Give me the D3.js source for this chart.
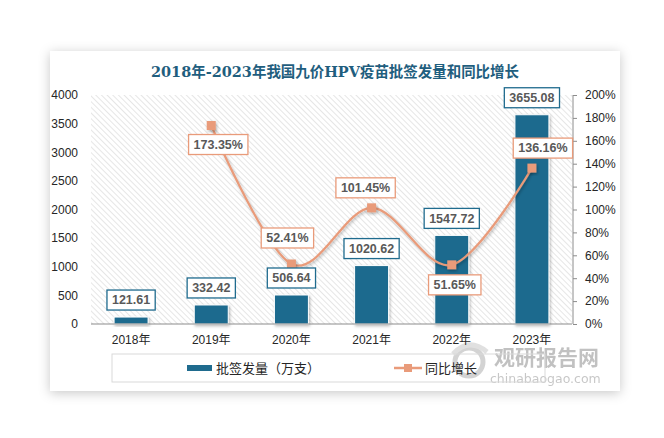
<!DOCTYPE html>
<html>
<head>
<meta charset="utf-8">
<script src="https://cdn.jsdelivr.net/npm/d3@7"></script>
<style>
  html, body { margin: 0; padding: 0; background: #ffffff; }
  svg { display: block; }
</style>
</head>
<body>
<svg id="chart" width="664" height="438"></svg>
<script>
// ---------------- DATA ----------------
const categories = ["2018年", "2019年", "2020年", "2021年", "2022年", "2023年"];
const batchVolume = [121.61, 332.42, 506.64, 1020.62, 1547.72, 3655.08];   // 批签发量（万支）
const yoyGrowth = [null, 173.35, 52.41, 101.45, 51.65, 136.16];           // 同比增长 (%)
const leftTicks = [0, 500, 1000, 1500, 2000, 2500, 3000, 3500, 4000];
const rightTicks = [0, 20, 40, 60, 80, 100, 120, 140, 160, 180, 200];
const titleText = "2018年-2023年我国九价HPV疫苗批签发量和同比增长";
const legendBar = "批签发量（万支）";
const legendLine = "同比增长";

// ---------------- STYLE / LAYOUT ----------------
const barColor = "#1F6B8E";
const lineColor = "#E99B7A";
const labelText = "#595959";
const lineLabelOffsets = [[0, 0], [7, 19], [-4, -26], [-6, -20], [3, 20], [11, -20]];
const plot = { left: 91, right: 572, top: 95, bottom: 324 };

const svg = d3.select("#chart");
const defs = svg.append("defs");

// card shadow
const cardShadow = defs.append("filter").attr("id", "cardShadow")
  .attr("x", "-10%").attr("y", "-10%").attr("width", "120%").attr("height", "120%");
cardShadow.append("feDropShadow").attr("dx", 0).attr("dy", 2).attr("stdDeviation", 6)
  .attr("flood-color", "#000").attr("flood-opacity", 0.22);

const markShadow = defs.append("filter").attr("id", "markShadow")
  .attr("x", "-30%").attr("y", "-30%").attr("width", "160%").attr("height", "160%");
markShadow.append("feDropShadow").attr("dx", 1).attr("dy", 1.5).attr("stdDeviation", 1.5)
  .attr("flood-color", "#000").attr("flood-opacity", 0.3);

// hatch pattern
const pat = defs.append("pattern").attr("id", "hatch")
  .attr("patternUnits", "userSpaceOnUse").attr("width", 4).attr("height", 4)
  .attr("patternTransform", "rotate(-45)");
pat.append("rect").attr("width", 4).attr("height", 4).attr("fill", "#ffffff");
pat.append("line").attr("x1", 0).attr("y1", 0).attr("x2", 0).attr("y2", 4)
  .attr("stroke", "#d6d6d6").attr("stroke-width", 1.2);

// card
svg.append("rect").attr("x", 50).attr("y", 51).attr("width", 570).attr("height", 340)
  .attr("fill", "#ffffff").attr("filter", "url(#cardShadow)");

// title
svg.append("text").attr("x", 335).attr("y", 77).attr("text-anchor", "middle")
  .attr("font-family", "'DejaVu Serif', 'Noto Sans CJK SC', serif")
  .attr("font-weight", "bold").attr("font-size", 15).attr("fill", "#1F5E7E")
  .attr("textLength", 368).attr("lengthAdjust", "spacingAndGlyphs")
  .text(titleText);

// scales
const x = d3.scaleBand().domain(categories).range([plot.left, plot.right]).paddingInner(0).paddingOuter(0);
const yL = d3.scaleLinear().domain([0, 4000]).range([plot.bottom, plot.top]);
const yR = d3.scaleLinear().domain([0, 200]).range([plot.bottom, plot.top]);

// plot background hatch
svg.append("rect").attr("x", plot.left).attr("y", plot.top)
  .attr("width", plot.right - plot.left).attr("height", plot.bottom - plot.top)
  .attr("fill", "url(#hatch)");

// left axis
const axL = svg.append("g").attr("transform", `translate(${plot.left - 13},0)`)
  .call(d3.axisLeft(yL).tickValues(leftTicks).tickSize(0).tickPadding(0).tickFormat(d3.format("d")));
axL.select(".domain").remove();
axL.selectAll("text").attr("font-family", "'Liberation Sans', Arial, sans-serif")
  .attr("font-size", 12).attr("fill", "#262626");

// right axis
const axR = svg.append("g").attr("transform", `translate(${plot.right + 1},0)`)
  .call(d3.axisRight(yR).tickValues(rightTicks).tickSize(4).tickPadding(8).tickFormat(d => d + "%"));
axR.select(".domain").attr("stroke", "#8c8c8c").attr("d", `M0,${plot.top}V${plot.bottom}`);
axR.selectAll("line").attr("stroke", "#8c8c8c");
axR.selectAll("text").attr("font-family", "'Liberation Sans', Arial, sans-serif")
  .attr("font-size", 12).attr("fill", "#262626");

// bars
const bw = 34;
svg.append("g").selectAll("rect").data(batchVolume).join("rect")
  .attr("x", (d, i) => x(categories[i]) + x.bandwidth() / 2 - bw / 2)
  .attr("y", d => yL(d))
  .attr("width", bw)
  .attr("height", d => yL(0) - yL(d))
  .attr("fill", barColor).attr("stroke", "#ffffff").attr("stroke-width", 1)
  .attr("filter", "url(#markShadow)");

// watermark (drawn beneath axis labels)
const wm = svg.append("g").attr("opacity", 0.55);
wm.append("circle").attr("cx", 469).attr("cy", 362).attr("r", 14)
  .attr("fill", "none").attr("stroke", "#b0b0b0").attr("stroke-width", 5);
wm.append("path").attr("d", "M453,354 Q469,337 487,352").attr("fill", "none")
  .attr("stroke", "#c8c8c8").attr("stroke-width", 5);
wm.append("text").attr("x", 494).attr("y", 365)
  .attr("font-family", "'Noto Sans CJK SC', sans-serif").attr("font-weight", "bold")
  .attr("font-size", 21).attr("fill", "#8f8f8f").text("观研报告网");
wm.append("text").attr("x", 490).attr("y", 383)
  .attr("font-family", "'DejaVu Sans', sans-serif")
  .attr("font-size", 12.5).attr("fill", "#9a9a9a").text("chinabaogao.com");

// x axis line
const axB = svg.append("g").attr("transform", `translate(0,${plot.bottom})`)
  .call(d3.axisBottom(x).tickSize(0).tickPadding(11));
axB.select(".domain").attr("stroke", "#8c8c8c").attr("d", `M${plot.left},0H${plot.right}`);
axB.selectAll("text").attr("font-family", "'Liberation Sans', 'Noto Sans CJK SC', sans-serif")
  .attr("font-size", 12).attr("fill", "#262626");

// line
const pts = yoyGrowth.map((v, i) => ({ v, i })).filter(p => p.v != null);
const line = d3.line()
  .x(p => x(categories[p.i]) + x.bandwidth() / 2)
  .y(p => yR(p.v))
  .curve(d3.curveCardinal.tension(0));
svg.append("path").datum(pts).attr("d", line)
  .attr("fill", "none").attr("stroke", lineColor).attr("stroke-width", 2.2)
  .attr("filter", "url(#markShadow)");

svg.append("g").selectAll("rect").data(pts).join("rect")
  .attr("x", p => x(categories[p.i]) + x.bandwidth() / 2 - 4.5)
  .attr("y", p => yR(p.v) - 4.5)
  .attr("width", 9).attr("height", 9)
  .attr("fill", lineColor)
  .attr("filter", "url(#markShadow)");

// labels helper
function boxLabel(cx, cy, txt, border) {
  const g = svg.append("g");
  const t = g.append("text").attr("x", cx).attr("y", cy + 4.3).attr("text-anchor", "middle")
    .attr("font-family", "'Liberation Sans', Arial, sans-serif")
    .attr("font-weight", "bold").attr("font-size", 12.5).attr("fill", labelText).text(txt);
  const w = t.node().getComputedTextLength() + 10;
  g.insert("rect", "text").attr("x", cx - w / 2).attr("y", cy - 10)
    .attr("width", w).attr("height", 20)
    .attr("fill", "#ffffff").attr("stroke", border).attr("stroke-width", 1.3);
}

batchVolume.forEach((d, i) => {
  boxLabel(x(categories[i]) + x.bandwidth() / 2, yL(d) - 17, d3.format(".2f")(d), barColor);
});
pts.forEach(p => {
  const off = lineLabelOffsets[p.i];
  boxLabel(x(categories[p.i]) + x.bandwidth() / 2 + off[0], yR(p.v) + off[1], d3.format(".2f")(p.v) + "%", lineColor);
});

// legend
svg.append("rect").attr("x", 112).attr("y", 354).attr("width", 433).attr("height", 28)
  .attr("fill", "none").attr("stroke", "#d9d9d9").attr("stroke-width", 1);
svg.append("rect").attr("x", 187).attr("y", 365).attr("width", 25).attr("height", 6).attr("fill", barColor);
svg.append("text").attr("x", 216).attr("y", 373)
  .attr("font-family", "'Noto Sans CJK SC', sans-serif").attr("font-size", 13).attr("fill", "#262626")
  .text(legendBar);
svg.append("line").attr("x1", 394).attr("x2", 422).attr("y1", 368).attr("y2", 368)
  .attr("stroke", lineColor).attr("stroke-width", 2.5);
svg.append("rect").attr("x", 404).attr("y", 364).attr("width", 8).attr("height", 8).attr("fill", lineColor);
svg.append("text").attr("x", 425).attr("y", 373)
  .attr("font-family", "'Noto Sans CJK SC', sans-serif").attr("font-size", 13).attr("fill", "#262626")
  .text(legendLine);
</script>
</body>
</html>
